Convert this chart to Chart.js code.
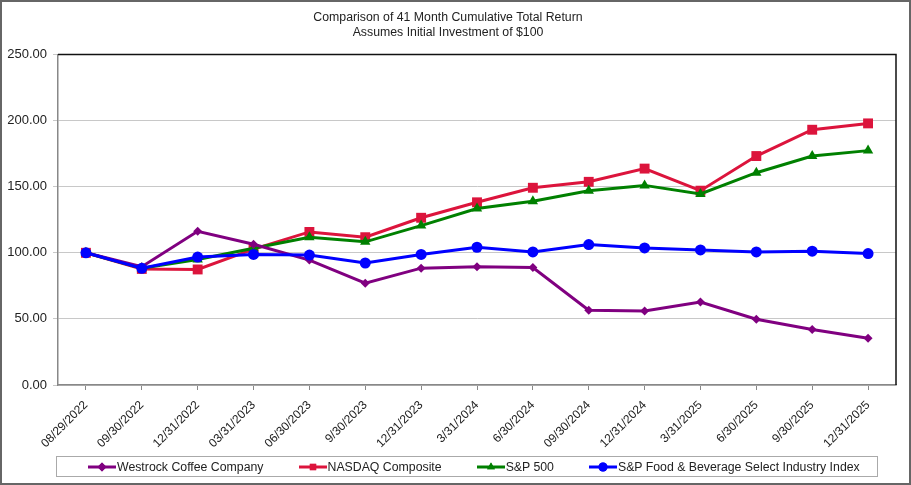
<!DOCTYPE html>
<html>
<head>
<meta charset="utf-8">
<script src="https://cdn.jsdelivr.net/npm/chart.js@4.4.1/dist/chart.umd.min.js"></script>
<style>
  html, body { margin: 0; padding: 0; background: #fff; }
  #wrap { width: 911px; height: 485px; position: relative; }
  #chart { position: absolute; left: 0; top: 0; }
  #legend {
    position: absolute; left: 56px; top: 456px; width: 822px; height: 21px;
    box-sizing: border-box; border: 1px solid #aaa;
    display: flex; align-items: center; padding-left: 31px; gap: 35px;
    font: 12.3px "Liberation Sans", Arial, sans-serif; color: #222; white-space: nowrap;
  }
  #legend .item { display: flex; align-items: center; }
  #legend canvas { display: block; margin-right: 1px; }
</style>
</head>
<body>
<div id="wrap">
  <canvas id="chart" width="911" height="485"></canvas>
  <div id="legend"></div>
</div>
<script>
// values
const dates = ['08/29/2022', '09/30/2022', '12/31/2022', '03/31/2023', '06/30/2023', '9/30/2023',
  '12/31/2023', '3/31/2024', '6/30/2024', '09/30/2024', '12/31/2024', '3/31/2025',
  '6/30/2025', '9/30/2025', '12/31/2025']
const westrock = [100, 89.5, 116.3, 106.5, 94.5, 77.0, 88.4, 89.4, 88.8, 56.5, 55.9, 62.7, 49.7, 42.0, 35.3]
const nasdaq = [100, 87.8, 87.4, 102.8, 115.8, 111.8, 126.5, 138.2, 149.2, 153.7, 163.7, 147.0, 173.2, 193.1, 197.9]
const sp500 = [100, 88.3, 95.0, 103.5, 111.8, 108.3, 120.6, 133.5, 139.0, 147.0, 151.0, 144.5, 160.6, 173.2, 177.3]
const foodBev = [100, 88.3, 96.8, 98.8, 98.3, 92.3, 98.8, 104.2, 100.7, 106.2, 103.7, 102.2, 100.7, 101.2, 99.4]
const yTicks = [0, 50, 100, 150, 200, 250]

const fontFamily = '"Liberation Sans", Arial, sans-serif'

const series = [
  {label: 'Westrock Coffee Company', data: westrock, color: '#800080', style: 'rectRot', radius: 4.5, order: 1},
  {label: 'NASDAQ Composite', data: nasdaq, color: '#dc143c', style: 'rect', radius: 7, order: 3},
  {label: 'S&P 500', data: sp500, color: '#008000', style: 'triangle', radius: 6, order: 2},
  {label: 'S&P Food & Beverage Select Industry Index', data: foodBev, color: '#0000ff', style: 'circle', radius: 5.5, order: 0}
]

// top and right edges of the plot, plus the outer border of the picture
const frame = {
  id: 'frame',
  beforeDatasetsDraw(chart) {
    let {ctx, chartArea: a} = chart
    ctx.save()
    ctx.strokeStyle = '#111'
    ctx.lineWidth = 1.5
    ctx.beginPath()
    ctx.moveTo(a.left, a.top)
    ctx.lineTo(a.right, a.top)
    ctx.lineTo(a.right, a.bottom)
    ctx.stroke()
    ctx.restore()
  },
  afterDraw(chart) {
    let ctx = chart.ctx
    ctx.save()
    ctx.strokeStyle = '#666'
    ctx.lineWidth = 2
    ctx.strokeRect(1, 1, chart.width - 2, chart.height - 2)
    ctx.restore()
  }
}

let chart = new Chart(document.getElementById('chart'), {
  type: 'line',
  data: {
    labels: dates,
    datasets: series.map(s => ({
      label: s.label,
      data: s.data,
      order: s.order,
      borderColor: s.color,
      backgroundColor: s.color,
      borderWidth: 3,
      pointStyle: s.style,
      pointRadius: s.radius,
      pointBorderWidth: 0,
      pointBackgroundColor: s.color,
      tension: 0,
      clip: false
    }))
  },
  options: {
    responsive: false,
    animation: false,
    layout: {padding: {left: 0, right: 15, top: 0, bottom: 37}},
    plugins: {
      tooltip: {enabled: false},
      legend: {display: false},
      title: {
        display: true,
        text: ['Comparison of 41 Month Cumulative Total Return', 'Assumes Initial Investment of $100'],
        color: '#222',
        font: {family: fontFamily, size: 12.3, weight: 'normal', lineHeight: 1.2},
        padding: {top: 10, bottom: 15}
      }
    },
    scales: {
      x: {
        offset: true,
        grid: {display: true, drawOnChartArea: false, tickLength: 5, color: '#888'},
        border: {color: '#888', width: 1.5},
        ticks: {
          color: '#222',
          font: {family: fontFamily, size: 12},
          maxRotation: 45,
          minRotation: 45,
          autoSkip: false,
          padding: 8
        },
        afterFit(scale) { scale.height = 63 }
      },
      y: {
        min: 0,
        max: 250,
        afterBuildTicks(scale) { scale.ticks = yTicks.map(v => ({value: v})) },
        grid: {color: '#c8c8c8', tickLength: 5, lineWidth: 1},
        border: {color: '#888', width: 1.5},
        ticks: {
          color: '#222',
          font: {family: fontFamily, size: 13},
          padding: 6,
          callback: v => v.toFixed(2)
        },
        afterFit(scale) { scale.width = 58 }
      }
    }
  },
  plugins: [frame]
})

// legend: a short line with the series marker, then the name
let legend = document.getElementById('legend')
chart.data.datasets.forEach((ds, i) => {
  let s = series[i]
  let item = document.createElement('div')
  item.className = 'item'
  let sym = document.createElement('canvas')
  sym.width = 28
  sym.height = 12
  let ctx = sym.getContext('2d')
  ctx.strokeStyle = s.color
  ctx.lineWidth = 3
  ctx.beginPath()
  ctx.moveTo(0, 6)
  ctx.lineTo(28, 6)
  ctx.stroke()
  ctx.fillStyle = s.color
  Chart.helpers.drawPoint(ctx, {pointStyle: s.style, radius: 4.5, borderWidth: 0}, 14, 6)
  ctx.fill()
  let text = document.createElement('span')
  text.textContent = ds.label
  item.appendChild(sym)
  item.appendChild(text)
  legend.appendChild(item)
})
</script>
</body>
</html>
